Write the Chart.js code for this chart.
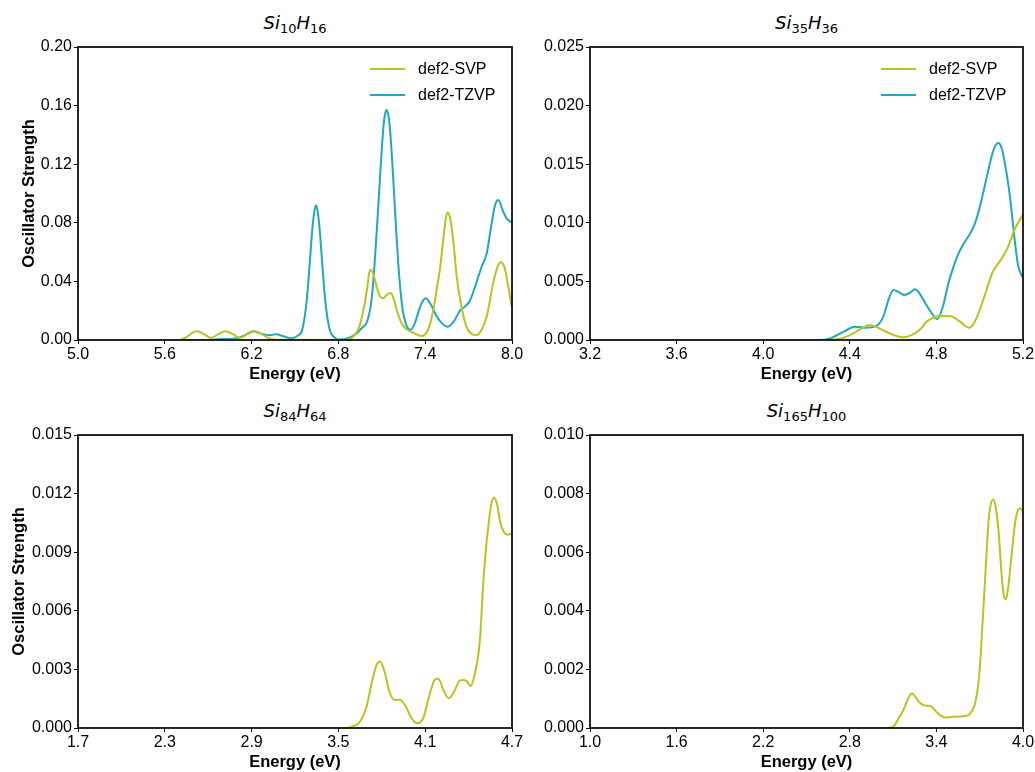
<!DOCTYPE html>
<html><head><meta charset="utf-8">
<script src="https://cdn.jsdelivr.net/npm/chart.js@4/dist/chart.umd.min.js"></script>
<style>
html,body{margin:0;padding:0;background:#fff;overflow:hidden;width:1035px;height:772px;}
.panel{position:absolute;}
.ttl{position:absolute;text-align:center;font-family:"DejaVu Sans";font-size:18px;line-height:20px;color:#000;white-space:nowrap;}
.ttl i{font-style:italic;}
.ttl sub{font-size:13px;vertical-align:-4px;line-height:0;}
</style></head><body>
<div class="ttl" style="left:78px;width:434px;top:13px;"><i>Si</i><sub>10</sub><i>H</i><sub>16</sub></div>
<div class="ttl" style="left:590px;width:433px;top:13px;"><i>Si</i><sub>35</sub><i>H</i><sub>36</sub></div>
<div class="ttl" style="left:78px;width:434px;top:401px;"><i>Si</i><sub>84</sub><i>H</i><sub>64</sub></div>
<div class="ttl" style="left:590px;width:433px;top:401px;"><i>Si</i><sub>165</sub><i>H</i><sub>100</sub></div>
<canvas id="c1" class="panel" width="530" height="349" style="left:0px;top:35px;"></canvas>
<canvas id="c2" class="panel" width="535" height="349" style="left:515px;top:35px;"></canvas>
<canvas id="c3" class="panel" width="530" height="349" style="left:0px;top:423px;"></canvas>
<canvas id="c4" class="panel" width="535" height="349" style="left:515px;top:423px;"></canvas>
<script>
// ---- data: [energy (eV), oscillator strength] ----
const seriesLabels = ['def2-SVP', 'def2-TZVP'];

const si10_svp = [[5.0,0],[5.7,0],[5.75,0.002],[5.79,0.005],[5.83,0.006],[5.87,0.004],[5.92,0.0015],[5.97,0.004],[6.02,0.006],[6.07,0.004],[6.12,0.0015],[6.17,0.004],[6.22,0.006],[6.27,0.004],[6.32,0.0012],[6.38,0.0001],[6.85,0],[6.9,0.002],[6.94,0.008],[6.97,0.019],[7.0,0.036],[7.012,0.0455],[7.023,0.048],[7.034,0.0465],[7.045,0.044],[7.065,0.036],[7.09,0.0295],[7.11,0.0285],[7.135,0.031],[7.163,0.032],[7.185,0.027],[7.205,0.02],[7.237,0.0114],[7.27,0.0075],[7.317,0.005],[7.375,0.0027],[7.42,0.007],[7.455,0.02],[7.48,0.035],[7.5,0.047],[7.53,0.073],[7.543,0.0835],[7.555,0.087],[7.567,0.085],[7.58,0.079],[7.6,0.062],[7.617,0.044],[7.65,0.023],[7.685,0.009],[7.72,0.0042],[7.755,0.0034],[7.79,0.007],[7.825,0.016],[7.87,0.039],[7.9,0.05],[7.912,0.0523],[7.925,0.053],[7.938,0.0518],[7.95,0.049],[7.975,0.036],[8.0,0.022]];
const si10_tzvp = [[5.0,0],[5.85,0],[6.0,0.0006],[6.1,0.0012],[6.15,0.003],[6.21,0.006],[6.26,0.0045],[6.3,0.0035],[6.33,0.0033],[6.37,0.004],[6.42,0.0025],[6.48,0.0012],[6.52,0.003],[6.55,0.007],[6.58,0.026],[6.6,0.05],[6.62,0.076],[6.633,0.0875],[6.645,0.092],[6.657,0.0875],[6.67,0.076],[6.69,0.05],[6.71,0.026],[6.74,0.007],[6.77,0.002],[6.81,0.0003],[6.86,0.001],[6.92,0.004],[6.96,0.008],[7.0,0.013],[7.03,0.028],[7.05,0.052],[7.07,0.082],[7.09,0.115],[7.11,0.144],[7.121,0.1535],[7.133,0.157],[7.145,0.1535],[7.155,0.146],[7.175,0.117],[7.2,0.074],[7.22,0.044],[7.245,0.02],[7.27,0.01],[7.3,0.007],[7.33,0.012],[7.37,0.024],[7.403,0.0285],[7.44,0.024],[7.48,0.016],[7.52,0.011],[7.555,0.009],[7.6,0.013],[7.64,0.02],[7.675,0.0228],[7.71,0.027],[7.75,0.038],[7.79,0.05],[7.825,0.059],[7.86,0.08],[7.88,0.091],[7.893,0.0945],[7.905,0.0956],[7.917,0.094],[7.93,0.09],[7.963,0.083],[8.0,0.08]];

const si35_svp = [[3.2,0],[4.3,0],[4.355,0.0001],[4.416,0.00057],[4.455,0.001],[4.493,0.00128],[4.525,0.0011],[4.555,0.00082],[4.6,0.00045],[4.647,0.00023],[4.7,0.00057],[4.73,0.001],[4.755,0.00157],[4.785,0.0019],[4.817,0.00207],[4.845,0.00205],[4.871,0.002],[4.909,0.00157],[4.952,0.00105],[4.975,0.0015],[5.0,0.00256],[5.03,0.0042],[5.06,0.0058],[5.1,0.0069],[5.13,0.0079],[5.16,0.0094],[5.2,0.0107]];
const si35_tzvp = [[3.2,0],[4.25,0],[4.309,0.00014],[4.37,0.0007],[4.424,0.00114],[4.478,0.00105],[4.516,0.00114],[4.555,0.002],[4.58,0.0035],[4.601,0.00427],[4.625,0.0041],[4.65,0.00384],[4.675,0.004],[4.701,0.00432],[4.725,0.0039],[4.75,0.0031],[4.778,0.0023],[4.804,0.00177],[4.832,0.003],[4.855,0.0048],[4.878,0.0062],[4.9,0.0073],[4.925,0.0082],[4.95,0.0089],[4.975,0.0098],[5.0,0.0113],[5.03,0.0137],[5.06,0.016],[5.073,0.0166],[5.086,0.0168],[5.099,0.0165],[5.11,0.0157],[5.14,0.0122],[5.16,0.0088],[5.178,0.0063],[5.2,0.0053]];

const si84_svp = [[1.7,0],[3.55,0],[3.603,0.0001],[3.649,0.00032],[3.695,0.0011],[3.73,0.0023],[3.764,0.00323],[3.787,0.0034],[3.805,0.0032],[3.822,0.0028],[3.856,0.00178],[3.891,0.00143],[3.925,0.00145],[3.96,0.00118],[4.006,0.0005],[4.045,0.00024],[4.086,0.0005],[4.133,0.00178],[4.16,0.0024],[4.183,0.00254],[4.203,0.0024],[4.225,0.00195],[4.264,0.00152],[4.305,0.00195],[4.335,0.0024],[4.356,0.00246],[4.386,0.0024],[4.414,0.00215],[4.444,0.0028],[4.478,0.0045],[4.501,0.0074],[4.52,0.0092],[4.536,0.0103],[4.555,0.0114],[4.575,0.0118],[4.595,0.0115],[4.617,0.0106],[4.64,0.0101],[4.665,0.0099],[4.7,0.00995]];

const si165_svp = [[1.0,0],[3.05,0],[3.1,0.00004],[3.135,0.0003],[3.171,0.00061],[3.2,0.00095],[3.22,0.00115],[3.234,0.00118],[3.25,0.0011],[3.275,0.00092],[3.31,0.00078],[3.34,0.00076],[3.368,0.00072],[3.41,0.0005],[3.46,0.00036],[3.51,0.00038],[3.564,0.00039],[3.622,0.00044],[3.648,0.0006],[3.668,0.00084],[3.688,0.0014],[3.703,0.0022],[3.72,0.0036],[3.737,0.00505],[3.75,0.0062],[3.76,0.00699],[3.775,0.0076],[3.795,0.0078],[3.812,0.0075],[3.83,0.00676],[3.853,0.00516],[3.868,0.0045],[3.881,0.00439],[3.895,0.0047],[3.922,0.00596],[3.945,0.00699],[3.962,0.0074],[3.98,0.0075],[4.0,0.00739]];

// axis tick ranges [min, max, step]
const si10_xticks = [5.0, 8.0, 0.6];   const si10_yticks = [0, 0.20, 0.04];
const si35_xticks = [3.2, 5.2, 0.4];   const si35_yticks = [0, 0.025, 0.005];
const si84_xticks = [1.7, 4.7, 0.6];   const si84_yticks = [0, 0.015, 0.003];
const si165_xticks = [1.0, 4.0, 0.6];  const si165_yticks = [0, 0.010, 0.002];

// ---- styling ----
const COLORS = ['#bcc21f', '#1ea9bd'];
const FONT = '"Liberation Sans", Arial, sans-serif';

const framePlugin = {
  id: 'frame',
  afterDraw(c) {
    const {ctx, chartArea: a} = c;
    ctx.save();
    ctx.strokeStyle = '#111';
    ctx.lineWidth = 1.8;
    ctx.strokeRect(a.left, a.top, a.right - a.left, a.bottom - a.top);
    ctx.restore();
  }
};
const legendPlugin = {
  id: 'lg',
  afterDraw(c, args, opts) {
    if (!opts.show) return;
    const {ctx, chartArea: a} = c;
    ctx.save();
    c.data.datasets.forEach((d, i) => {
      const y = a.top + 22 + i * 26;
      ctx.strokeStyle = d.borderColor;
      ctx.lineWidth = 2;
      ctx.beginPath();
      ctx.moveTo(a.right - 142, y);
      ctx.lineTo(a.right - 107, y);
      ctx.stroke();
      ctx.fillStyle = '#000';
      ctx.font = '16px ' + FONT;
      ctx.textBaseline = 'middle';
      ctx.textAlign = 'left';
      ctx.fillText(d.label, a.right - 94, y + 1);
    });
    ctx.restore();
  }
};

function toPts(arr) { return arr.map(p => ({x: p[0], y: p[1]})); }

function makeChart(id, series, xt, yt, opt) {
  const datasets = series.map((s, i) => ({
    label: seriesLabels[i],
    data: toPts(s),
    borderColor: COLORS[i],
    borderWidth: 2,
    pointRadius: 0,
    fill: false,
    cubicInterpolationMode: 'monotone'
  }));
  new Chart(document.getElementById(id), {
    type: 'line',
    data: {datasets},
    plugins: [framePlugin, legendPlugin],
    options: {
      responsive: false,
      animation: false,
      layout: {padding: {top: 12, right: opt.rightPad, left: 0, bottom: 0}},
      plugins: {legend: {display: false}, tooltip: {enabled: false}, lg: {show: opt.legend}},
      scales: {
        x: {
          type: 'linear', min: xt[0], max: xt[1],
          ticks: {stepSize: xt[2], callback: v => v.toFixed(1), color: '#000',
                  font: {family: FONT, size: 16}, padding: 1, maxRotation: 0, autoSkip: false},
          grid: {display: true, drawOnChartArea: false, drawTicks: true, tickLength: 4, color: '#000'},
          border: {display: false},
          title: {display: true, text: 'Energy (eV)', color: '#000',
                  font: {family: FONT, size: 16.5, weight: 'bold'}, padding: {top: 0, bottom: 0}},
          afterFit(s) { s.height = 44; }
        },
        y: {
          type: 'linear', min: yt[0], max: yt[1],
          ticks: {stepSize: yt[2], callback: v => v.toFixed(opt.dec), color: '#000',
                  font: {family: FONT, size: 16}, padding: 2},
          grid: {display: true, drawOnChartArea: false, drawTicks: true, tickLength: 4, color: '#000'},
          border: {display: false},
          title: {display: opt.ytitle, text: 'Oscillator Strength', color: '#000',
                  font: {family: FONT, size: 16.5, weight: 'bold'}, padding: {top: opt.ytPad, bottom: 0}},
          afterFit(s) { s.width = opt.yw; }
        }
      }
    }
  });
}

makeChart('c1', [si10_svp, si10_tzvp], si10_xticks, si10_yticks, {dec: 2, ytitle: true, ytPad: 19.2, yw: 78, rightPad: 18, legend: true});
makeChart('c2', [si35_svp, si35_tzvp], si35_xticks, si35_yticks, {dec: 3, ytitle: false, ytPad: 0, yw: 75, rightPad: 27, legend: true});
makeChart('c3', [si84_svp], si84_xticks, si84_yticks, {dec: 3, ytitle: true, ytPad: 9.2, yw: 78, rightPad: 18, legend: false});
makeChart('c4', [si165_svp], si165_xticks, si165_yticks, {dec: 3, ytitle: false, ytPad: 0, yw: 75, rightPad: 27, legend: false});
</script>
</body></html>
